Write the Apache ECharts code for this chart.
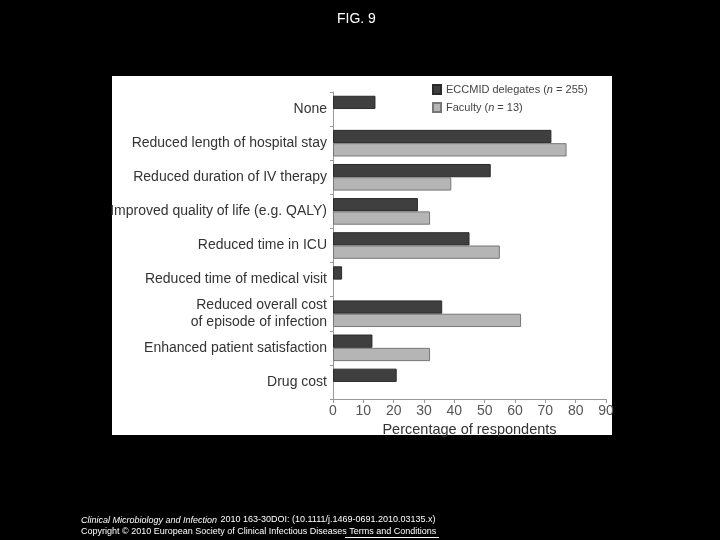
<!DOCTYPE html>
<html>
<head>
<meta charset="utf-8">
<script src="https://cdn.jsdelivr.net/npm/echarts@6/dist/echarts.min.js"></script>
<style>
html,body{margin:0;padding:0;background:#000;}
#c{width:720px;height:540px;}
</style>
</head>
<body>
<div id="c"></div>
<script>
const categories = [
  'None',
  'Reduced length of hospital stay',
  'Reduced duration of IV therapy',
  'Improved quality of life (e.g. QALY)',
  'Reduced time in ICU',
  'Reduced time of medical visit',
  'Reduced overall cost\nof episode of infection',
  'Enhanced patient satisfaction',
  'Drug cost'
];
const delegates = [14, 72, 52, 28, 45, 3, 36, 13, 21];
const faculty = [null, 77, 39, 32, 55, null, 62, 32, null];
const xTicks = [0, 10, 20, 30, 40, 50, 60, 70, 80, 90];
const seriesNames = ['ECCMID delegates (n = 255)', 'Faculty (n = 13)'];

const chart = echarts.init(document.getElementById('c'));
const font = '"Liberation Sans", Arial, sans-serif';
chart.setOption({
  backgroundColor: '#000',
  animation: false,
  textStyle: { fontFamily: font },
  graphic: [
    { type: 'rect', z: -10, shape: { x: 112, y: 76, width: 500, height: 359 }, style: { fill: '#fff' } },
    { type: 'text', left: 337, top: 12, style: { text: 'FIG. 9', fill: '#fff', font: '14px ' + font } },
    { type: 'text', left: 81, top: 514, style: {
      text: '{i|Clinical Microbiology and Infection} {n|2010 163-30DOI: (10.1111/j.1469-0691.2010.03135.x)}',
      rich: {
        i: { fill: '#fff', font: 'italic 9px ' + font },
        n: { fill: '#fff', font: '9px ' + font }
      } } },
    { type: 'text', left: 81, top: 527, style: { text: 'Copyright © 2010 European Society of Clinical Infectious Diseases Terms and Conditions', fill: '#fff', font: '9px ' + font } },
    { type: 'line', shape: { x1: 345, y1: 537.5, x2: 439, y2: 537.5 }, style: { stroke: '#fff', lineWidth: 1 } }
  ],
  legend: {
    orient: 'vertical',
    left: 427,
    top: 79,
    icon: 'rect',
    itemWidth: 8,
    itemHeight: 9,
    itemGap: 7,
    data: seriesNames,
    formatter: function (name) {
      if (name === seriesNames[0]) return '{a|ECCMID delegates (}{i|n}{a| = 255)}';
      return '{a|Faculty (}{i|n}{a| = 13)}';
    },
    textStyle: {
      rich: {
        a: { fontSize: 11, color: '#444', fontFamily: font },
        i: { fontSize: 11, color: '#444', fontStyle: 'italic', fontFamily: font }
      }
    }
  },
  grid: { left: 333, right: 114, top: 92, bottom: 141, containLabel: false },
  xAxis: {
    type: 'value',
    min: 0,
    max: 90,
    interval: 10,
    name: 'Percentage of respondents',
    nameLocation: 'middle',
    nameGap: 23,
    nameTextStyle: { fontSize: 14.5, color: '#333', fontFamily: font },
    axisLine: { show: true, lineStyle: { color: '#999' } },
    axisTick: { show: true, length: 4, lineStyle: { color: '#999' } },
    axisLabel: { fontSize: 14, color: '#555', margin: 5, fontFamily: font,
      formatter: function (v) { return xTicks.indexOf(v) >= 0 ? String(v) : ''; } },
    splitLine: { show: false }
  },
  yAxis: {
    type: 'category',
    inverse: true,
    data: categories,
    axisLine: { show: true, lineStyle: { color: '#999' } },
    axisTick: { show: true, length: 3, lineStyle: { color: '#999' } },
    axisLabel: { fontSize: 14, color: '#333', margin: 6, lineHeight: 17, fontFamily: font }
  },
  series: [
    {
      name: seriesNames[0], type: 'bar', data: delegates,
      barGap: '0%', barCategoryGap: '22%',
      itemStyle: { color: '#3f3f3f', borderColor: '#2a2a2a', borderWidth: 1 }
    },
    {
      name: seriesNames[1], type: 'bar', data: faculty,
      barGap: '0%', barCategoryGap: '22%',
      itemStyle: { color: '#b5b5b5', borderColor: '#777', borderWidth: 1 }
    }
  ]
});
</script>
</body>
</html>
